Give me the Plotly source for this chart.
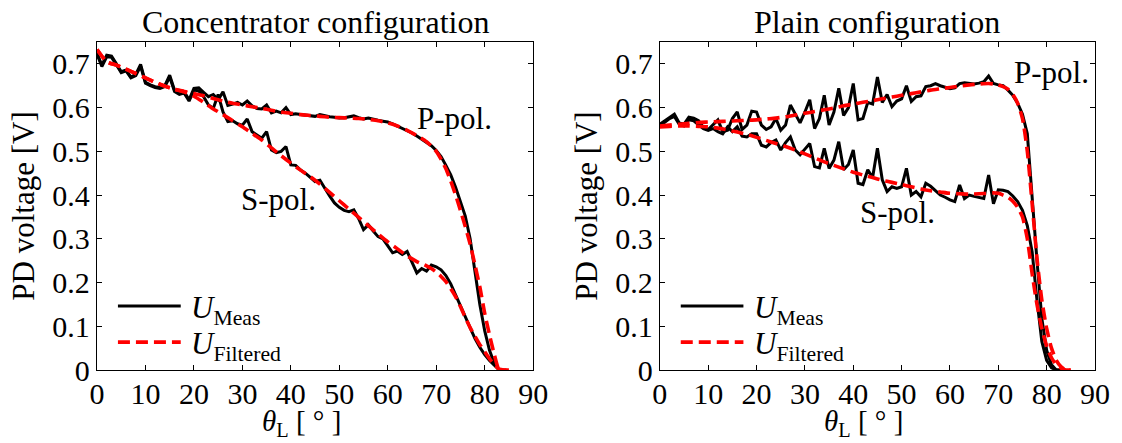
import plotly.graph_objects as go

# ---------------- data ----------------
theta_meas = list(range(0, 84))  # measurement angles [deg]

conc_p_meas = [0.725, 0.697, 0.720, 0.718, 0.700, 0.682, 0.686, 0.670, 0.676, 0.699,
               0.658, 0.652, 0.648, 0.646, 0.650, 0.674, 0.640, 0.633, 0.636, 0.618,
               0.644, 0.645, 0.635, 0.625, 0.630, 0.618, 0.636, 0.605, 0.608, 0.612,
               0.606, 0.615, 0.604, 0.598, 0.597, 0.606, 0.588, 0.592, 0.588, 0.600,
               0.584, 0.586, 0.584, 0.583, 0.582, 0.580, 0.584, 0.581, 0.579, 0.578,
               0.576, 0.577, 0.579, 0.581, 0.577, 0.574, 0.576, 0.573, 0.571, 0.569,
               0.567, 0.563, 0.558, 0.553, 0.548, 0.542, 0.535, 0.528, 0.521, 0.513,
               0.502, 0.488, 0.468, 0.446, 0.418, 0.385, 0.352, 0.300, 0.220, 0.150,
               0.090, 0.045, 0.015, 0.000]

conc_s_meas = [0.722, 0.694, 0.716, 0.715, 0.698, 0.680, 0.684, 0.668, 0.673, 0.695,
               0.656, 0.650, 0.646, 0.644, 0.648, 0.670, 0.637, 0.630, 0.633, 0.615,
               0.640, 0.638, 0.625, 0.606, 0.598, 0.630, 0.590, 0.568, 0.570, 0.563,
               0.560, 0.574, 0.545, 0.537, 0.530, 0.545, 0.503, 0.497, 0.500, 0.511,
               0.469, 0.468, 0.457, 0.450, 0.440, 0.431, 0.434, 0.415, 0.398, 0.382,
               0.372, 0.365, 0.362, 0.366, 0.346, 0.321, 0.332, 0.318, 0.305, 0.300,
               0.285, 0.268, 0.272, 0.264, 0.271, 0.245, 0.222, 0.232, 0.226, 0.240,
               0.236, 0.229, 0.216, 0.197, 0.172, 0.143, 0.118, 0.093, 0.072, 0.052,
               0.035, 0.022, 0.010, 0.000]

plain_p_meas = [0.562, 0.570, 0.578, 0.585, 0.565, 0.562, 0.578, 0.576, 0.570, 0.555,
                0.550, 0.560, 0.572, 0.545, 0.548, 0.575, 0.590, 0.550, 0.560, 0.592,
                0.590, 0.560, 0.550, 0.556, 0.575, 0.548, 0.560, 0.606, 0.585, 0.565,
                0.590, 0.618, 0.552, 0.575, 0.628, 0.560, 0.590, 0.644, 0.582, 0.600,
                0.655, 0.572, 0.575, 0.612, 0.608, 0.670, 0.612, 0.630, 0.602, 0.615,
                0.620, 0.650, 0.614, 0.625, 0.627, 0.648, 0.650, 0.655, 0.650, 0.647,
                0.643, 0.645, 0.655, 0.657, 0.655, 0.654, 0.656, 0.659, 0.672, 0.655,
                0.652, 0.650, 0.640, 0.628, 0.610, 0.585, 0.540, 0.390, 0.250, 0.118,
                0.045, 0.012, 0.000, 0.000]

plain_s_meas = [0.558, 0.566, 0.575, 0.580, 0.562, 0.558, 0.572, 0.570, 0.562, 0.552,
                0.548, 0.552, 0.545, 0.540, 0.556, 0.545, 0.556, 0.535, 0.533, 0.540,
                0.540, 0.514, 0.510, 0.520, 0.526, 0.503, 0.520, 0.533, 0.503, 0.492,
                0.505, 0.518, 0.465, 0.462, 0.507, 0.461, 0.480, 0.522, 0.458, 0.470,
                0.503, 0.427, 0.424, 0.458, 0.440, 0.507, 0.435, 0.408, 0.419, 0.415,
                0.419, 0.461, 0.400, 0.408, 0.396, 0.427, 0.420, 0.410, 0.400, 0.395,
                0.389, 0.385, 0.423, 0.392, 0.400, 0.397, 0.395, 0.392, 0.446, 0.380,
                0.412, 0.411, 0.408, 0.398, 0.385, 0.365, 0.330, 0.270, 0.160, 0.065,
                0.022, 0.005, 0.000, 0.000]

# filtered curves on a coarser grid
theta_filt = list(range(0, 68, 2)) + list(range(68, 86))

conc_p_filt = [0.733, 0.705, 0.697, 0.688, 0.678, 0.668, 0.658, 0.649, 0.642, 0.637,
               0.632, 0.627, 0.621, 0.615, 0.610, 0.606, 0.602, 0.598, 0.594, 0.590,
               0.587, 0.584, 0.582, 0.580, 0.578, 0.577, 0.576, 0.575, 0.573, 0.570,
               0.565, 0.558, 0.548, 0.536,
               0.522, 0.512, 0.500, 0.482, 0.460, 0.432, 0.400, 0.365, 0.328, 0.288,
               0.240, 0.190, 0.130, 0.080, 0.035, 0.000, 0.000, 0.000]

conc_s_filt = [0.733, 0.705, 0.697, 0.688, 0.678, 0.668, 0.658, 0.649, 0.642, 0.636,
               0.626, 0.612, 0.597, 0.584, 0.570, 0.556, 0.541, 0.526, 0.508, 0.490,
               0.473, 0.457, 0.442, 0.425, 0.406, 0.387, 0.368, 0.349, 0.330, 0.311,
               0.293, 0.277, 0.261, 0.248,
               0.238, 0.232, 0.224, 0.214, 0.202, 0.186, 0.168, 0.145, 0.120, 0.097,
               0.077, 0.058, 0.042, 0.026, 0.012, 0.002, 0.000, 0.000]

plain_p_filt = [0.558, 0.560, 0.562, 0.564, 0.566, 0.567, 0.568, 0.569, 0.570, 0.571,
                0.572, 0.574, 0.576, 0.579, 0.583, 0.587, 0.591, 0.595, 0.599, 0.604,
                0.608, 0.612, 0.616, 0.620, 0.624, 0.628, 0.632, 0.636, 0.640, 0.643,
                0.646, 0.649, 0.652, 0.654,
                0.655, 0.654, 0.652, 0.648, 0.642, 0.630, 0.610, 0.575, 0.500, 0.380,
                0.255, 0.160, 0.095, 0.050, 0.022, 0.007, 0.000, 0.000]

plain_s_filt = [0.556, 0.557, 0.558, 0.558, 0.557, 0.556, 0.553, 0.549, 0.544, 0.539,
                0.532, 0.525, 0.518, 0.511, 0.503, 0.494, 0.485, 0.476, 0.468, 0.460,
                0.452, 0.446, 0.440, 0.434, 0.429, 0.424, 0.419, 0.414, 0.410, 0.407,
                0.404, 0.403, 0.402, 0.403,
                0.404, 0.405, 0.404, 0.400, 0.395, 0.386, 0.372, 0.350, 0.300, 0.220,
                0.150, 0.095, 0.055, 0.028, 0.012, 0.004, 0.000, 0.000]

x_ticks = [0, 10, 20, 30, 40, 50, 60, 70, 80, 90]
y_ticks = [0, 0.1, 0.2, 0.3, 0.4, 0.5, 0.6, 0.7]
y_tick_text = ["0", "0.1", "0.2", "0.3", "0.4", "0.5", "0.6", "0.7"]

panel_titles = ["Concentrator configuration", "Plain configuration"]
pol_labels = ["P-pol.", "S-pol."]
legend_labels = ["<i>U</i><sub>Meas</sub>", "<i>U</i><sub>Filtered</sub>"]
x_title = "<i>θ</i><sub>L</sub> [ ° ]"
y_title = "PD voltage [V]"

# ---------------- style ----------------
FONT = "Liberation Serif"
FS_TICK = 30
FS_TEXT = 31
BLACK = "#000000"
RED = "#ff0000"

fig = go.Figure()

panels = [
    ("x", "y", conc_p_meas, conc_s_meas, conc_p_filt, conc_s_filt),
    ("x2", "y2", plain_p_meas, plain_s_meas, plain_p_filt, plain_s_filt),
]

for xa, ya, pm, sm, pf, sf in panels:
    for series in (pm, sm):
        fig.add_trace(go.Scatter(
            x=theta_meas, y=series, xaxis=xa, yaxis=ya, mode="lines",
            line=dict(color=BLACK, width=3), showlegend=False, hoverinfo="skip"))
    for series in (pf, sf):
        fig.add_trace(go.Scatter(
            x=theta_filt, y=series, xaxis=xa, yaxis=ya, mode="lines",
            line=dict(color=RED, width=3.6, dash="12px,6px", shape="spline", smoothing=0.6),
            showlegend=False, hoverinfo="skip"))

axis_common = dict(
    showline=True, linecolor=BLACK, linewidth=1.4, mirror="ticks",
    ticks="inside", ticklen=5, tickwidth=1.2, tickcolor=BLACK,
    showgrid=False, zeroline=False,
    tickfont=dict(family=FONT, size=FS_TICK, color=BLACK),
)

xdomains = [[0.0, 0.437], [0.564, 1.0]]
for i, (xa, ya) in enumerate([("xaxis", "yaxis"), ("xaxis2", "yaxis2")]):
    fig.layout[xa] = dict(axis_common, domain=xdomains[i], range=[0, 90],
                          tickvals=x_ticks, anchor="y" if i == 0 else "y2",
                          ticklabelstandoff=-3)
    fig.layout[ya] = dict(axis_common, domain=[0, 1], range=[0, 0.75],
                          tickvals=y_ticks, ticktext=y_tick_text,
                          anchor="x" if i == 0 else "x2",
                          title=dict(text=y_title, standoff=8,
                                     font=dict(family=FONT, size=FS_TEXT, color=BLACK)))

annotations = []
refs = [("x", "y"), ("x2", "y2")]
pol_pos = [[(73.8, 0.576), (37.5, 0.389)], [(81.1, 0.680), (49.1, 0.360)]]
for i, (xr, yr) in enumerate(refs):
    # panel title
    annotations.append(dict(text=panel_titles[i], xref=f"{xr} domain", yref=f"{yr} domain",
                            x=0.5, y=1.06, xanchor="center", yanchor="middle",
                            showarrow=False, font=dict(family=FONT, size=FS_TEXT + 1, color=BLACK)))
    # x-axis title
    annotations.append(dict(text=x_title,
                            xref=f"{xr} domain", yref=f"{yr} domain",
                            x=0.468, y=-0.222, xanchor="center", yanchor="bottom",
                            showarrow=False, font=dict(family=FONT, size=29, color=BLACK)))
    # polarisation labels
    for lab, (px, py) in zip(pol_labels, pol_pos[i]):
        annotations.append(dict(text=lab, xref=xr, yref=yr, x=px, y=py,
                                xanchor="center", yanchor="middle", showarrow=False,
                                font=dict(family=FONT, size=FS_TEXT, color=BLACK)))

# in-axes legend: line samples + labels
shapes = []
legend_rows = [(0.195, BLACK, "solid", 3), (0.085, RED, "12px,6px", 3.6)]
for xr, yr in refs:
    for (ly, col, dash, w), lab in zip(legend_rows, legend_labels):
        shapes.append(dict(type="line", xref=f"{xr} domain", yref=f"{yr} domain",
                           x0=0.048, x1=0.192, y0=ly, y1=ly,
                           line=dict(color=col, width=w, dash=dash)))
        annotations.append(dict(text=lab, xref=f"{xr} domain", yref=f"{yr} domain",
                                x=0.211, y=ly, xanchor="left", yanchor="middle",
                                yshift=-4, showarrow=False,
                                font=dict(family=FONT, size=FS_TEXT, color=BLACK)))

fig.update_layout(
    width=1122, height=443,
    margin=dict(l=97, r=18, t=42, b=73),
    paper_bgcolor="white", plot_bgcolor="white",
    font=dict(family=FONT, size=FS_TEXT, color=BLACK),
    annotations=annotations, shapes=shapes, showlegend=False,
)

fig.write_html("out.html")
